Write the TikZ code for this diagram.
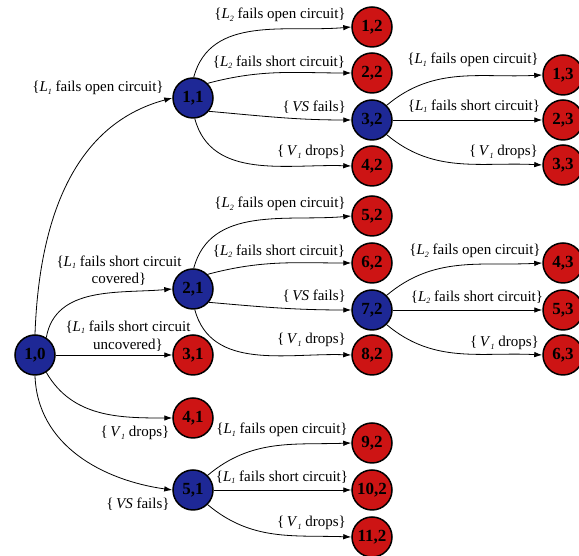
\documentclass[tikz,border=0pt]{standalone}
\usepackage{fontspec}
\setmainfont{Liberation Serif}
\usetikzlibrary{arrows.meta}
\definecolor{sblue}{RGB}{30,40,150}
\definecolor{sred}{RGB}{205,20,20}
\newcommand\Lsub[1]{\textit{L}\raisebox{-0.35ex}{\footnotesize\textit{#1}}}
\newcommand\Vsub[1]{\textit{V}\raisebox{-0.35ex}{\footnotesize\textit{#1}}}
\newcommand\VSx{\textit{VS}}
\tikzset{
  stnode/.style={circle,draw=black,line width=1.5pt,minimum size=40pt,inner sep=0pt,
    font=\fontsize{17}{17}\selectfont\bfseries,text=black},
  bnode/.style={stnode,fill=sblue},
  rnode/.style={stnode,fill=sred},
  edgearr/.style={-{Latex[length=8pt,width=5.5pt]},line width=0.8pt},
  lab/.style={font=\fontsize{15}{17.5}\selectfont,inner sep=0pt,align=center}
}
\begin{document}
\begin{tikzpicture}[x=1pt,y=1pt]
\useasboundingbox (0,0) rectangle (579,556);
\clip (0,0) rectangle (579,556);
% nodes
\node[bnode] (n10) at (35,201) {1,0};
\node[bnode] (n11) at (193,458) {1,1};
\node[bnode] (n21) at (193,267) {2,1};
\node[rnode] (n31) at (193,201) {3,1};
\node[rnode] (n41) at (193,138) {4,1};
\node[bnode] (n51) at (193,66) {5,1};
\node[rnode] (n12) at (372,529) {1,2};
\node[rnode] (n22) at (372,483) {2,2};
\node[bnode] (n32) at (372,436) {3,2};
\node[rnode] (n42) at (372,390) {4,2};
\node[rnode] (n52) at (372,340) {5,2};
\node[rnode] (n62) at (372,293) {6,2};
\node[bnode] (n72) at (372,246) {7,2};
\node[rnode] (n82) at (372,201) {8,2};
\node[rnode] (n92) at (372,113) {9,2};
\node[rnode] (n102) at (372,66) {10,2};
\node[rnode] (n112) at (372,19) {11,2};
\node[rnode] (n13) at (563,481) {1,3};
\node[rnode] (n23) at (563,436) {2,3};
\node[rnode] (n33) at (563,391) {3,3};
\node[rnode] (n43) at (563,293) {4,3};
\node[rnode] (n53) at (563,246) {5,3};
\node[rnode] (n63) at (563,201) {6,3};
% edges from 1,0
\draw[edgearr] (n10.90) to[out=88,in=195] (n11.west);
\draw[edgearr] (n10.57) to[out=80,in=185] (n21.west);
\draw[edgearr] (n10) -- (n31);
\draw[edgearr] (n10.-57) to[out=-60,in=180] (n41.west);
\draw[edgearr] (n10.-90) to[out=-88,in=172] (n51.west);
% edges from 1,1
\draw[edgearr] (n11.88) to[out=75,in=185] (n12.west);
\draw[edgearr] (n11.45) to[out=15,in=180] (n22.west);
\draw[edgearr] (n11.-40) to[out=-5,in=180] (n32.west);
\draw[edgearr] (n11.-85) to[out=-75,in=178] (n42.west);
% edges from 2,1
\draw[edgearr] (n21.88) to[out=75,in=185] (n52.west);
\draw[edgearr] (n21.45) to[out=15,in=180] (n62.west);
\draw[edgearr] (n21.-40) to[out=-5,in=180] (n72.west);
\draw[edgearr] (n21.-85) to[out=-75,in=178] (n82.west);
% edges from 5,1
\draw[edgearr] (n51.45) to[out=40,in=182] (n92.west);
\draw[edgearr] (n51) -- (n102);
\draw[edgearr] (n51.-45) to[out=-40,in=178] (n112.west);
% edges from 3,2
\draw[edgearr] (n32.45) to[out=40,in=183] (n13.west);
\draw[edgearr] (n32) -- (n23);
\draw[edgearr] (n32.-45) to[out=-40,in=177] (n33.west);
% edges from 7,2
\draw[edgearr] (n72.45) to[out=40,in=183] (n43.west);
\draw[edgearr] (n72) -- (n53);
\draw[edgearr] (n72.-45) to[out=-40,in=177] (n63.west);
% labels
\node[lab] (l11) at (98,468) {\{\Lsub{1} fails open circuit\}};
\node[lab] (l21) at (119,285.5) {\{\Lsub{1} fails short circuit\\covered\}};
\node[lab] (l31) at (128,220) {\{\Lsub{1} fails short circuit\\uncovered\}};
\node[lab] (l41) at (135,123) {\{\,\Vsub{1} drops\}};
\node[lab] (l51) at (138,52) {\{\,\VSx{} fails\}};
\node[lab] (l12) at (280,541) {\{\Lsub{2} fails open circuit\}};
\node[lab] (l22) at (279,494) {\{\Lsub{2} fails short circuit\}};
\node[lab,anchor=east] (l32) at (346,449) {\{\,\VSx{} fails\}};
\node[lab,anchor=east] (l42) at (346,404) {\{\,\Vsub{1} drops\}};
\node[lab] (l13) at (473,496) {\{\Lsub{1} fails open circuit\}};
\node[lab] (l23) at (474,450) {\{\Lsub{1} fails short circuit\}};
\node[lab,anchor=east] (l33) at (538,404) {\{\,\Vsub{1} drops\}};
\node[lab] (l52) at (280,352) {\{\Lsub{2} fails open circuit\}};
\node[lab] (l62) at (279,305) {\{\Lsub{2} fails short circuit\}};
\node[lab,anchor=east] (l72) at (346,260) {\{\,\VSx{} fails\}};
\node[lab,anchor=east] (l82) at (346,216) {\{\,\Vsub{1} drops\}};
\node[lab] (l43) at (475,305) {\{\Lsub{2} fails open circuit\}};
\node[lab] (l53) at (477,259) {\{\Lsub{2} fails short circuit\}};
\node[lab,anchor=east] (l63) at (539,213) {\{\,\Vsub{1} drops\}};
\node[lab] (l92) at (282,126) {\{\Lsub{1} fails open circuit\}};
\node[lab] (l102) at (282,79) {\{\Lsub{1} fails short circuit\}};
\node[lab,anchor=east] (l112) at (346,33) {\{\,\Vsub{1} drops\}};
\end{tikzpicture}
\end{document}
